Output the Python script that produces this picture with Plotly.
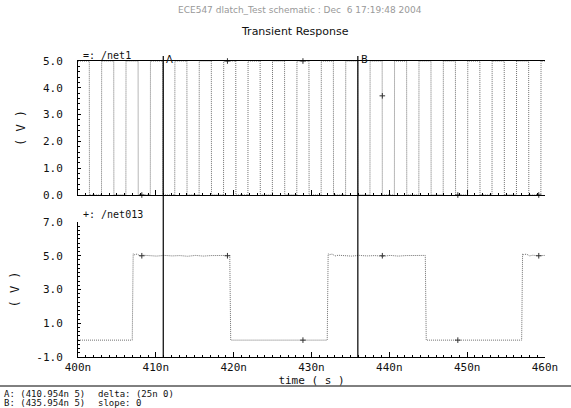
import plotly.graph_objects as go

# ---------------- data ----------------
clock_edges = [401.45, 403.02, 404.59, 406.15, 407.72, 409.29, 410.86, 412.43,
               413.99, 415.56, 417.13, 418.70, 420.27, 421.83, 423.40, 424.97,
               426.54, 428.11, 429.67, 431.24, 432.81, 434.38, 435.95, 437.51,
               439.08, 440.65, 442.22, 443.79, 445.35, 446.92, 448.49, 450.06,
               451.63, 453.19, 454.76, 456.33, 457.90, 459.47]
clock_start_level = 5.0
clock_high = 5.0
clock_low = 0.0

net013_edges = [406.97, 419.50, 432.02, 444.62, 457.00]   # rise, fall, rise, fall, rise
net013_start_level = 0.0
net013_low = 0.0
# ripple on the high plateau (time offset after rising edge, value)
ripple_dt = [0.0, 0.15, 0.5, 0.9, 1.3, 2.0, 3.0, 4.0, 5.0, 6.0, 7.0, 8.0, 9.0, 10.0, 11.0, 12.0]
ripple_v = [5.12, 5.06, 5.10, 4.99, 5.03, 5.00, 4.98, 5.02, 4.99, 5.01, 4.97, 5.02, 4.98, 5.01, 5.00, 5.02]

marker_t = [408.2, 419.2, 428.9, 439.1, 448.8, 459.2]
marker_net1 = [0.0, 5.0, 5.0, 3.7, 0.0, 0.0]
marker_net013 = [5.0, 5.0, 0.0, 5.0, 0.0, 5.0]

t_start, t_end = 400.0, 460.0
x_tickvals = [400, 410, 420, 430, 440, 450, 460]
x_ticktext = ["400n", "410n", "420n", "430n", "440n", "450n", "460n"]
y1_tickvals = [0, 1, 2, 3, 4, 5]
y1_ticktext = ["0.0", "1.0", "2.0", "3.0", "4.0", "5.0"]
y2_tickvals = [-1, 1, 3, 5, 7]
y2_ticktext = ["-1.0", "1.0", "3.0", "5.0", "7.0"]

cursor_names = ["A", "B"]
cursor_times = [410.954, 435.954]
cursor_vals = [5, 5]

header = "ECE547 dlatch_Test schematic : Dec  6 17:19:48 2004"
title = "Transient Response"
trace_names = ["=: /net1", "+: /net013"]

# ---------------- build waveforms ----------------
def clock_wave():
    ts, vs = [t_start], [clock_start_level]
    level = clock_start_level
    for e in clock_edges:
        ts.append(e); vs.append(level)
        level = clock_low if level == clock_high else clock_high
        ts.append(e + 0.02); vs.append(level)
    ts.append(t_end); vs.append(level)
    return ts, vs

def net013_wave():
    ts, vs = [t_start], [net013_start_level]
    rising = True
    for i, e in enumerate(net013_edges):
        if rising:
            ts.append(e); vs.append(net013_low)
            end = net013_edges[i + 1] if i + 1 < len(net013_edges) else t_end
            for dt, v in zip(ripple_dt, ripple_v):
                t = e + 0.12 + dt
                if t < end - 0.05:
                    ts.append(t); vs.append(v)
            if i + 1 < len(net013_edges):
                ts.append(end); vs.append(ripple_v[-1])
        else:
            ts.append(e + 0.12); vs.append(net013_low)
        rising = not rising
    if not rising:
        ts.append(t_end); vs.append(ripple_v[-1])
    else:
        ts.append(t_end); vs.append(net013_low)
    return ts, vs

ct, cv = clock_wave()
nt, nv = net013_wave()

# ---------------- geometry helpers ----------------
W, H = 571, 408
L, R, T, B = 78, 26, 61, 51
PW, PH = W - L - R, H - T - B

def px_x(px):
    return (px - L) / PW

def px_y(py):
    return (H - B - py) / PH

line_col = "#707070"
font_main = "DejaVu Sans Mono"

fig = go.Figure()
fig.add_trace(go.Scatter(x=ct, y=cv, mode="lines", xaxis="x", yaxis="y",
                         line=dict(color=line_col, width=1, dash="1px,1px"),
                         showlegend=False, hoverinfo="skip"))
fig.add_trace(go.Scatter(x=marker_t, y=marker_net1, mode="markers", xaxis="x", yaxis="y",
                         marker=dict(symbol="cross-thin", size=4, color="#333",
                                     line=dict(width=1, color="#333")),
                         showlegend=False, cliponaxis=False, hoverinfo="skip"))
fig.add_trace(go.Scatter(x=nt, y=nv, mode="lines", xaxis="x2", yaxis="y2",
                         line=dict(color=line_col, width=1, dash="1px,1px"),
                         showlegend=False, hoverinfo="skip"))
fig.add_trace(go.Scatter(x=marker_t, y=marker_net013, mode="markers", xaxis="x2", yaxis="y2",
                         marker=dict(symbol="cross-thin", size=4, color="#333",
                                     line=dict(width=1, color="#333")),
                         showlegend=False, cliponaxis=False, hoverinfo="skip"))

tickfont = dict(family=font_main, size=11, color="#111")
common_x = dict(range=[t_start, t_end], tickvals=x_tickvals, ticks="inside", ticklen=5,
                tickcolor="black", showline=True, linecolor="black", linewidth=1,
                showgrid=False, zeroline=False, automargin=False,
                minor=dict(dtick=1, ticks="inside", ticklen=2, tickcolor="black", showgrid=False))

fig.update_layout(
    width=W, height=H, margin=dict(l=L, r=R, t=T, b=B, autoexpand=False),
    paper_bgcolor="white", plot_bgcolor="white",
    xaxis=dict(anchor="y", showticklabels=False, mirror=True, **common_x),
    xaxis2=dict(anchor="y2", matches="x", ticktext=x_ticktext, tickfont=tickfont,
                title=dict(text="time ( s )", font=dict(family=font_main, size=11, color="#111"),
                           standoff=2), **common_x),
    yaxis=dict(domain=[px_y(195), 1.0], range=[0, 5], tickvals=y1_tickvals, ticktext=y1_ticktext,
               ticks="inside", ticklen=3, tickcolor="black", tickfont=tickfont,
               ticklabelstandoff=12, automargin=False,
               showline=True, linecolor="black", showgrid=False, zeroline=False,
               minor=dict(dtick=0.2, ticks="inside", ticklen=2, tickcolor="black", showgrid=False),
               title=dict(text="( V )", font=dict(family=font_main, size=12, color="#111"), standoff=14)),
    yaxis2=dict(domain=[0, px_y(222)], range=[-1, 7], tickvals=y2_tickvals, ticktext=y2_ticktext,
                ticks="inside", ticklen=3, tickcolor="black", tickfont=tickfont,
                ticklabelstandoff=12, automargin=False,
                showline=True, linecolor="black", showgrid=False, zeroline=False,
                minor=dict(dtick=0.25, ticks="inside", ticklen=2, tickcolor="black", showgrid=False),
                title=dict(text="( V )", font=dict(family=font_main, size=12, color="#111"), standoff=14)),
)

shapes = []
annotations = []
for name, t in zip(cursor_names, cursor_times):
    shapes.append(dict(type="line", xref="x", yref="paper", x0=t, x1=t,
                       y0=px_y(358), y1=px_y(56), line=dict(color="black", width=1.2)))
    annotations.append(dict(text=name, xref="x", yref="paper", x=t, y=px_y(52),
                            xanchor="left", yanchor="top", showarrow=False, xshift=1,
                            font=dict(family="DejaVu Sans", size=10, color="#111")))

shapes.append(dict(type="line", xref="paper", yref="paper", x0=px_x(0), x1=px_x(W),
                   y0=px_y(386), y1=px_y(386), line=dict(color="black", width=1)))

annotations.append(dict(text=header, xref="paper", yref="paper", x=px_x(300), y=px_y(10),
                        xanchor="center", yanchor="middle", showarrow=False,
                        font=dict(family="DejaVu Sans", size=9, color="#999")))
annotations.append(dict(text=title, xref="paper", yref="paper", x=px_x(295), y=px_y(31),
                        xanchor="center", yanchor="middle", showarrow=False,
                        font=dict(family="DejaVu Sans", size=11, color="#111")))
annotations.append(dict(text=trace_names[0], xref="paper", yref="paper", x=px_x(81), y=px_y(55),
                        xanchor="left", yanchor="middle", showarrow=False,
                        font=dict(family=font_main, size=10, color="#111")))
annotations.append(dict(text=trace_names[1], xref="paper", yref="paper", x=px_x(81), y=px_y(214),
                        xanchor="left", yanchor="middle", showarrow=False,
                        font=dict(family=font_main, size=10, color="#111")))

info_font = dict(family=font_main, size=9, color="#111")
cursor_lines = [f"{n}: ({t}n {v})" for n, t, v in zip(cursor_names, cursor_times, cursor_vals)]
delta_t = round(cursor_times[1] - cursor_times[0], 3)
delta_v = cursor_vals[1] - cursor_vals[0]
slope = 0 if delta_v == 0 else round(delta_v / delta_t, 3)
info_right = [f"delta: ({delta_t:g}n {delta_v})", f"slope: {slope}"]
for i, (a, b) in enumerate(zip(cursor_lines, info_right)):
    yy = px_y(394 + 9 * i)
    annotations.append(dict(text=a, xref="paper", yref="paper", x=px_x(2), y=yy,
                            xanchor="left", yanchor="middle", showarrow=False, font=info_font))
    annotations.append(dict(text=b, xref="paper", yref="paper", x=px_x(96), y=yy,
                            xanchor="left", yanchor="middle", showarrow=False, font=info_font))

fig.update_layout(shapes=shapes, annotations=annotations)
fig.write_html("out.html", config={"displayModeBar": False},
               post_script="document.body.style.margin='0';document.body.style.overflow='hidden';")
